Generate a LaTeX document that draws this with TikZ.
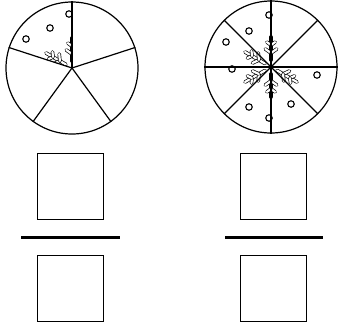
\documentclass[tikz,border=0pt]{standalone}
\usepackage{tikz}
\usetikzlibrary{positioning, calc}

\newcommand{\flake}[1]{%
  \foreach \a in {90,150,210,270,330} {
    \draw[flakeline] ($(#1)+(\a:7)$) -- ($(#1)+(\a:30)$);
    \draw[flakeline] ($(#1)+(\a:14)$) -- ++(\a+55:7);
    \draw[flakeline] ($(#1)+(\a:14)$) -- ++(\a-55:7);
    \draw[flakeline] ($(#1)+(\a:22)$) -- ++(\a+55:5);
    \draw[flakeline] ($(#1)+(\a:22)$) -- ++(\a-55:5);
  }}

\begin{document}
\begin{tikzpicture}[x=1pt, y=1pt,
    pie/.style={draw, circle, line width=1.2pt, minimum size=132pt, inner sep=0pt},
    cut/.style={line width=1.2pt},
    dot/.style={draw, circle, line width=1.1pt, minimum size=6.5pt, inner sep=0pt},
    flakeline/.style={double, double distance=2.2pt, line width=0.7pt, line cap=round},
    answer/.style={draw, line width=1.2pt, minimum size=66pt, inner sep=0pt},
    bar/.style={line width=2.6pt},
  ]
  \useasboundingbox (0,-322) rectangle (339,0);

  % --- fifths ---
  \coordinate (lc) at (72,-68);
  \begin{scope}
    \clip (lc) -- (72,0) -- (0,0) -- (0,-44.6) -- cycle;
    \flake{lc}
  \end{scope}
  \node[dot] (l1) at (50,-28) {};
  \node[dot] (l2) at (26,-39) {};
  \node[dot] (l3) at (69,-14) {};
  \node[pie] (lp) at (lc) {};
  \foreach \a in {90,18,-54,-126,162}
    \draw[cut] (lc) -- (lp.\a);

  % --- eighths ---
  \coordinate (rc) at (271,-67);
  \flake{rc}
  \foreach \p [count=\i] in {(249,-31),(226,-42),(232,-69),(317,-75),(249,-107),(291,-104),(269,-15),(269,-118)}
    \node[dot] (r\i) at \p {};
  \node[pie] (rp) at (rc) {};
  \foreach \a in {0,45,...,315}
    \draw[cut] (rc) -- (rp.\a);

  % --- fractions ---
  \node[answer] (ltop) at (70.5,-186.5) {};
  \node[answer] (lbot) at (70.5,-288.5) {};
  \coordinate (lbl) at (21,-237.5);
  \coordinate (lbr) at (120,-237.5);
  \draw[bar] (lbl) -- (lbr);

  \node[answer] (rtop) at (273.5,-186.5) {};
  \node[answer] (rbot) at (273.5,-288.5) {};
  \coordinate (rbl) at (225,-237.5);
  \coordinate (rbr) at (323,-237.5);
  \draw[bar] (rbl) -- (rbr);

\end{tikzpicture}
\end{document}
